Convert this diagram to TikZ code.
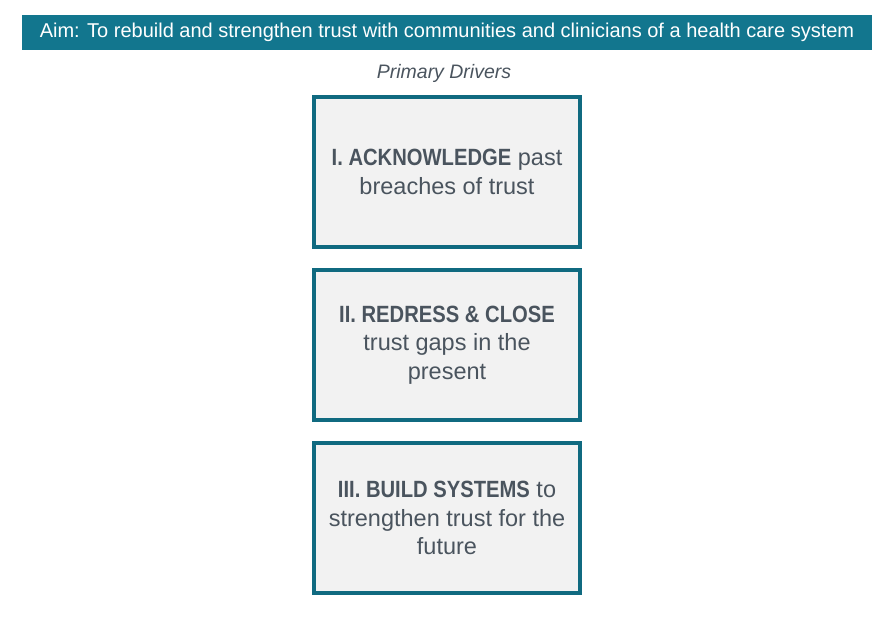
\documentclass[tikz,border=0pt]{standalone}
\usepackage{fontspec}
\setmainfont{Liberation Sans}
\newfontfamily\condfont{Liberation Sans}[FakeStretch=0.86]
\usepackage{xcolor}
\usepackage{tikz}
\usetikzlibrary{positioning}
\definecolor{aimteal}{RGB}{18, 118, 142}
\definecolor{drivergray}{RGB}{242, 242, 242}
\definecolor{drivertext}{RGB}{74, 84, 94}
\newcommand{\drvhead}[1]{{\condfont\bfseries #1}}

\begin{document}
\begin{tikzpicture}[x=1pt, y=-1pt,
    aimbar/.style={fill=aimteal, text=white, minimum width=850pt, minimum height=35pt, inner sep=0pt, font=\fontsize{20}{24}\selectfont},
    driverbox/.style={draw=aimteal!90!black, line width=3.2pt, fill=drivergray, text=drivertext, minimum width=266pt, minimum height=150pt, align=center, inner sep=0pt, font=\fontsize{23.5}{28.5}\selectfont}]

% Canvas
\useasboundingbox (0,0) rectangle (894,622);

% Aim
\node[aimbar] (aim) at (447,32.5) {Aim: To rebuild and strengthen trust with communities and clinicians of a health care system};

% Column heading
\node[text=drivertext, font=\fontsize{19.5}{22}\itshape] (head) at (444,73) {Primary Drivers};

% Primary drivers
\node[driverbox] (drvI) at (447,172) {\drvhead{I. ACKNOWLEDGE} past\\breaches of trust};
\node[driverbox] (drvII) at (447,345) {\drvhead{II. REDRESS \& CLOSE}\\trust gaps in the\\present};
\node[driverbox] (drvIII) at (447,518) {\drvhead{III. BUILD SYSTEMS} to\\strengthen trust for the\\future};

\end{tikzpicture}
\end{document}
